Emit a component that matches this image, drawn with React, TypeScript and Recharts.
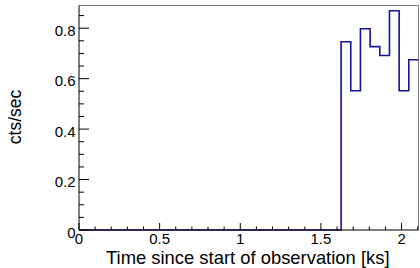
import { LineChart, Line, XAxis, YAxis, ReferenceLine } from 'recharts';

// bin edges in ks, count rate per bin
const binEdges = [0, 1.625, 1.685, 1.745, 1.805, 1.865, 1.925, 1.985, 2.045, 2.105];
const rates = [0, 0.746, 0.552, 0.798, 0.727, 0.692, 0.869, 0.552, 0.675];

const xMajorTicks = [0, 0.5, 1, 1.5, 2];
const xAllTicks = [0, 0.1, 0.2, 0.3, 0.4, 0.5, 0.6, 0.7, 0.8, 0.9, 1, 1.1, 1.2, 1.3, 1.4, 1.5, 1.6, 1.7, 1.8, 1.9, 2, 2.1];
const yMajorTicks = [0, 0.2, 0.4, 0.6, 0.8];
const yAllTicks = [0, 0.05, 0.1, 0.15, 0.2, 0.25, 0.3, 0.35, 0.4, 0.45, 0.5, 0.55, 0.6, 0.65, 0.7, 0.75, 0.8, 0.85];

const X_MAX = 2.105;
const Y_MAX = 0.89;

const FONT = '"Liberation Sans", Arial, Helvetica, sans-serif';
const LINE_COLOR = '#14149c';

// step points: each bin starts at its left edge, last point closes the final bin
const data = [
    ...rates.map((r, i) => ({ t: binEdges[i], rate: r })),
    { t: binEdges[binEdges.length - 1], rate: rates[rates.length - 1] },
];

const isMajor = (v: number, majors: number[]) => majors.some((m) => Math.abs(m - v) < 1e-6);

function XTick(props: any) {
    const { x, y, payload } = props;
    const v = payload.value;
    const major = isMajor(v, xMajorTicks);
    return (
        <g>
            <line x1={x} x2={x} y1={y} y2={y - (major ? 7 : 3.5)} stroke="#000" strokeWidth={1} />
            {major && (
                <text x={x} y={y + 13.5} textAnchor="middle" fontSize={15} fontFamily={FONT} fill="#000">
                    {String(v)}
                </text>
            )}
        </g>
    );
}

function YTick(props: any) {
    const { x, y, payload } = props;
    const v = payload.value;
    const major = isMajor(v, yMajorTicks);
    return (
        <g>
            <line x1={x} x2={x + (major ? 10 : 5)} y1={y} y2={y} stroke="#000" strokeWidth={1} />
            {major && (
                <text x={x - 3.5} y={y + 7.5} textAnchor="end" fontSize={15} fontFamily={FONT} fill="#000">
                    {String(v)}
                </text>
            )}
        </g>
    );
}

export default function App() {
    return (
        <div style={{ position: 'fixed', left: 0, top: 0, width: 420, height: 268, background: '#fff' }}>
            <LineChart width={420} height={268} data={data} margin={{ top: 5.5, right: 1.5, bottom: 0, left: 0 }}>
                <XAxis
                    dataKey="t"
                    type="number"
                    domain={[0, X_MAX]}
                    ticks={xAllTicks}
                    interval={0}
                    tick={<XTick />}
                    tickLine={false}
                    tickSize={0}
                    tickMargin={0}
                    height={38}
                    axisLine={{ stroke: '#000' }}
                    label={{
                        content: () => (
                            <text x={389.5} y={264} textAnchor="end" fontSize={18.4} fontFamily={FONT} fill="#000">
                                Time since start of observation [ks]
                            </text>
                        ),
                    }}
                />
                <YAxis
                    type="number"
                    domain={[0, Y_MAX]}
                    ticks={yAllTicks}
                    interval={0}
                    tick={<YTick />}
                    tickLine={false}
                    tickSize={0}
                    tickMargin={0}
                    width={79}
                    axisLine={{ stroke: '#000' }}
                    label={{
                        content: () => (
                            <text
                                x={20.5}
                                y={117}
                                transform="rotate(-90, 20.5, 117)"
                                textAnchor="middle"
                                fontSize={17.5}
                                fontFamily={FONT}
                                fill="#000"
                            >
                                cts/sec
                            </text>
                        ),
                    }}
                />
                <ReferenceLine y={Y_MAX} stroke="#808080" strokeWidth={1} />
                <ReferenceLine x={X_MAX} stroke="#808080" strokeWidth={1} />
                <Line
                    type="stepAfter"
                    dataKey="rate"
                    stroke={LINE_COLOR}
                    strokeWidth={1.6}
                    dot={false}
                    activeDot={false}
                    isAnimationActive={false}
                />
            </LineChart>
        </div>
    );
}
